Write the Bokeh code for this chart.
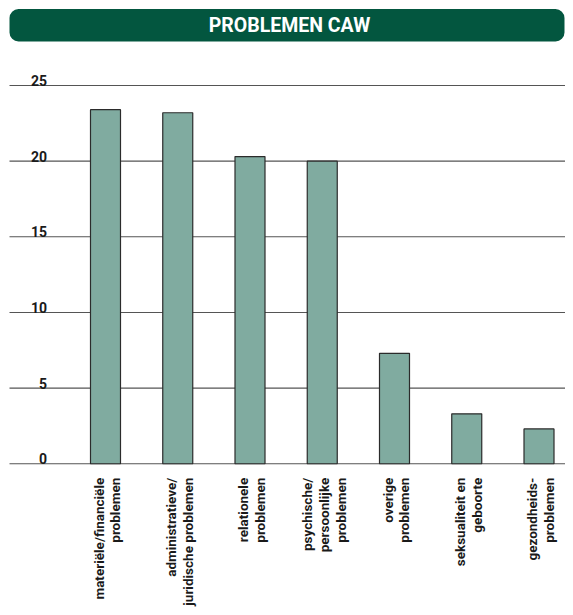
import math
from bokeh.plotting import figure
from bokeh.models import ColumnDataSource, Range1d
from bokeh.core.properties import value
from bokeh.embed import file_html
from bokeh.resources import INLINE

# ---- data ----
title_text = "PROBLEMEN CAW"
categories = [
    "materiële/financiële\nproblemen",
    "administratieve/\njuridische problemen",
    "relationele\nproblemen",
    "psychische/\npersoonlijke\nproblemen",
    "overige\nproblemen",
    "seksualiteit en\ngeboorte",
    "gezondheids-\nproblemen",
]
values = [23.4, 23.2, 20.3, 20.0, 7.3, 3.3, 2.3]
y_ticks = [0, 5, 10, 15, 20, 25]
y_tick_labels = ["0", "5", "10", "15", "20", "25"]

# ---- layout / styling ----
W, H = 565, 607
PX_X = 72.25   # pixels per category
PX_Y = 15.13   # pixels per value unit
x_start = -105.0 / PX_X
x_end = x_start + W / PX_X
y_end = 25 + 85.0 / PX_Y
y_start = y_end - H / PX_Y

def dx(px):
    return x_start + px / PX_X

def dy(py):
    return y_end - py / PX_Y

FONT = value("Roboto")
GREEN = "#03563f"
BAR = "#80aba0"
TXT = "#1a1a1a"

p = figure(width=W, height=H, output_backend="svg", toolbar_location=None,
           x_range=Range1d(x_start, x_end), y_range=Range1d(y_start, y_end),
           x_axis_location=None, y_axis_location=None, min_border=0,
           tools="")
p.grid.visible = False
p.outline_line_color = None
p.background_fill_color = "white"
p.border_fill_color = "white"

# title banner
p.quad(left=[dx(9)], right=[dx(564)], top=[dy(8.5)], bottom=[dy(41)],
       fill_color=GREEN, line_color=None, border_radius=9)
p.text(x=[dx(289)], y=[dy(25)], text=[title_text], text_font=FONT,
       text_font_style="bold", text_font_size="19.5px", text_color="white",
       text_align="center", text_baseline="middle")

# grid lines
p.segment(x0=[dx(9)] * len(y_ticks), x1=[x_end] * len(y_ticks),
          y0=y_ticks, y1=y_ticks, line_color="#555555", line_width=1.1)

# y tick labels
p.text(x=[dx(46.5)] * len(y_ticks), y=[t + 5.0 / PX_Y for t in y_ticks],
       text=y_tick_labels, text_font=FONT, text_font_style="bold",
       text_font_size="14px", text_color=TXT,
       text_align="right", text_baseline="alphabetic")

# bars
xs = list(range(len(categories)))
src = ColumnDataSource(dict(x=xs, top=values, cat=categories))
p.vbar(x="x", top="top", bottom=0, width=30.0 / PX_X, source=src,
       fill_color=BAR, line_color="#2b2b2b", line_width=1.2)

# category labels (rotated)
p.text(x=[x + 1.5 / PX_X for x in xs], y=[-(14.0 / PX_Y)] * len(xs), text=categories,
       angle=math.pi / 2, text_font=FONT, text_font_style="bold",
       text_font_size="13.5px", text_color=TXT, text_line_height=1.05,
       text_align="right", text_baseline="middle")

open("out.html", "w").write(file_html(p, INLINE))
